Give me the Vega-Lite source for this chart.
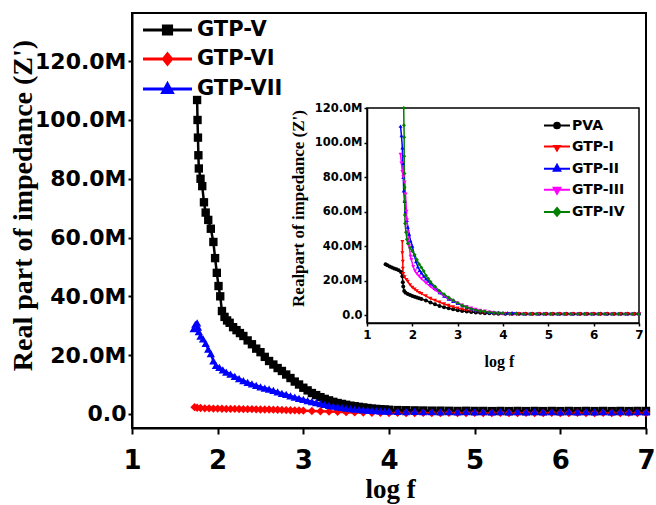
{
  "$schema": "https://vega.github.io/schema/vega-lite/v6.json",
  "width": 514,
  "height": 415,
  "autosize": {"type": "none"},
  "padding": {"left": 132, "top": 13, "right": 10, "bottom": 77},
  "background": "white",
  "config": {
    "view": {"stroke": "#000000", "strokeWidth": 2},
    "axis": {"grid": false, "domainColor": "#000000", "tickColor": "#000000", "labelColor": "#000000", "titleColor": "#000000", "labelFlush": false, "labelOverlap": false}
  },
  "datasets": {
    "main": [
      {"s":"GTP-V","x":1.76,"y":106.8},{"s":"GTP-V","x":1.765,"y":100},{"s":"GTP-V","x":1.77,"y":94},{"s":"GTP-V","x":1.775,"y":88},{"s":"GTP-V","x":1.78,"y":83.5},{"s":"GTP-V","x":1.8,"y":80},{"s":"GTP-V","x":1.82,"y":77.5},{"s":"GTP-V","x":1.84,"y":72},{"s":"GTP-V","x":1.86,"y":68.5},{"s":"GTP-V","x":1.89,"y":66},{"s":"GTP-V","x":1.92,"y":63},{"s":"GTP-V","x":1.95,"y":58.5},{"s":"GTP-V","x":1.97,"y":53},{"s":"GTP-V","x":1.99,"y":48},{"s":"GTP-V","x":2.01,"y":43.5},{"s":"GTP-V","x":2.03,"y":40},{"s":"GTP-V","x":2.05,"y":35},{"s":"GTP-V","x":2.08,"y":33},{"s":"GTP-V","x":2.11,"y":31.8},{"s":"GTP-V","x":2.14,"y":31},{"s":"GTP-V","x":2.18,"y":29.5},{"s":"GTP-V","x":2.22,"y":28.5},{"s":"GTP-V","x":2.26,"y":27.5},{"s":"GTP-V","x":2.3,"y":26.5},{"s":"GTP-V","x":2.35,"y":25},{"s":"GTP-V","x":2.4,"y":23.7},{"s":"GTP-V","x":2.45,"y":22.2},{"s":"GTP-V","x":2.5,"y":21},{"s":"GTP-V","x":2.55,"y":19.4},{"s":"GTP-V","x":2.6,"y":18},{"s":"GTP-V","x":2.65,"y":16.8},{"s":"GTP-V","x":2.7,"y":15.6},{"s":"GTP-V","x":2.75,"y":14.6},{"s":"GTP-V","x":2.8,"y":13.4},{"s":"GTP-V","x":2.85,"y":12.2},{"s":"GTP-V","x":2.9,"y":11},{"s":"GTP-V","x":2.95,"y":10},{"s":"GTP-V","x":3.0,"y":8.9},{"s":"GTP-V","x":3.05,"y":8},{"s":"GTP-V","x":3.1,"y":7.1},{"s":"GTP-V","x":3.15,"y":6.4},{"s":"GTP-V","x":3.2,"y":5.7},{"s":"GTP-V","x":3.25,"y":5.1},{"s":"GTP-V","x":3.3,"y":4.6},{"s":"GTP-V","x":3.35,"y":4.1},{"s":"GTP-V","x":3.4,"y":3.7},{"s":"GTP-V","x":3.45,"y":3.4},{"s":"GTP-V","x":3.5,"y":3.1},{"s":"GTP-V","x":3.55,"y":2.8},{"s":"GTP-V","x":3.6,"y":2.6},{"s":"GTP-V","x":3.65,"y":2.4},{"s":"GTP-V","x":3.7,"y":2.2},{"s":"GTP-V","x":3.75,"y":2.0},{"s":"GTP-V","x":3.8,"y":1.8},{"s":"GTP-V","x":3.85,"y":1.7},{"s":"GTP-V","x":3.9,"y":1.6},{"s":"GTP-V","x":3.95,"y":1.5},{"s":"GTP-V","x":4.0,"y":1.4},{"s":"GTP-V","x":4.1,"y":1.3},{"s":"GTP-V","x":4.2,"y":1.25},{"s":"GTP-V","x":4.3,"y":1.2},{"s":"GTP-V","x":4.4,"y":1.15},{"s":"GTP-V","x":4.5,"y":1.1},{"s":"GTP-V","x":4.6,"y":1.1},{"s":"GTP-V","x":4.7,"y":1.05},{"s":"GTP-V","x":4.8,"y":1.0},{"s":"GTP-V","x":4.9,"y":1.05},{"s":"GTP-V","x":5.0,"y":1.0},{"s":"GTP-V","x":5.1,"y":1.0},{"s":"GTP-V","x":5.2,"y":0.95},{"s":"GTP-V","x":5.3,"y":1.0},{"s":"GTP-V","x":5.4,"y":0.95},{"s":"GTP-V","x":5.5,"y":1.0},{"s":"GTP-V","x":5.6,"y":0.95},{"s":"GTP-V","x":5.7,"y":1.0},{"s":"GTP-V","x":5.8,"y":0.95},{"s":"GTP-V","x":5.9,"y":1.0},{"s":"GTP-V","x":6.0,"y":0.95},{"s":"GTP-V","x":6.1,"y":1.0},{"s":"GTP-V","x":6.2,"y":0.95},{"s":"GTP-V","x":6.3,"y":1.0},{"s":"GTP-V","x":6.4,"y":0.95},{"s":"GTP-V","x":6.5,"y":1.0},{"s":"GTP-V","x":6.6,"y":0.95},{"s":"GTP-V","x":6.7,"y":1.0},{"s":"GTP-V","x":6.8,"y":0.95},{"s":"GTP-V","x":6.9,"y":1.0},{"s":"GTP-V","x":7.0,"y":1.0},
      {"s":"GTP-VI","x":1.73,"y":2.3},{"s":"GTP-VI","x":1.76,"y":2.1},{"s":"GTP-VI","x":1.8,"y":2.0},{"s":"GTP-VI","x":1.85,"y":1.9},{"s":"GTP-VI","x":1.9,"y":1.9},{"s":"GTP-VI","x":1.95,"y":1.8},{"s":"GTP-VI","x":2.0,"y":1.8},{"s":"GTP-VI","x":2.05,"y":1.75},{"s":"GTP-VI","x":2.1,"y":1.7},{"s":"GTP-VI","x":2.15,"y":1.7},{"s":"GTP-VI","x":2.2,"y":1.7},{"s":"GTP-VI","x":2.25,"y":1.65},{"s":"GTP-VI","x":2.3,"y":1.6},{"s":"GTP-VI","x":2.35,"y":1.6},{"s":"GTP-VI","x":2.4,"y":1.6},{"s":"GTP-VI","x":2.45,"y":1.55},{"s":"GTP-VI","x":2.5,"y":1.5},{"s":"GTP-VI","x":2.55,"y":1.5},{"s":"GTP-VI","x":2.6,"y":1.5},{"s":"GTP-VI","x":2.65,"y":1.45},{"s":"GTP-VI","x":2.7,"y":1.4},{"s":"GTP-VI","x":2.75,"y":1.35},{"s":"GTP-VI","x":2.8,"y":1.3},{"s":"GTP-VI","x":2.85,"y":1.25},{"s":"GTP-VI","x":2.9,"y":1.2},{"s":"GTP-VI","x":2.95,"y":1.15},{"s":"GTP-VI","x":3.0,"y":1.1},{"s":"GTP-VI","x":3.1,"y":1.0},{"s":"GTP-VI","x":3.2,"y":0.9},{"s":"GTP-VI","x":3.3,"y":0.8},{"s":"GTP-VI","x":3.4,"y":0.7},{"s":"GTP-VI","x":3.5,"y":0.6},{"s":"GTP-VI","x":3.6,"y":0.5},{"s":"GTP-VI","x":3.7,"y":0.45},{"s":"GTP-VI","x":3.8,"y":0.4},{"s":"GTP-VI","x":3.9,"y":0.35},{"s":"GTP-VI","x":4.0,"y":0.3},{"s":"GTP-VI","x":4.1,"y":0.35},{"s":"GTP-VI","x":4.2,"y":0.3},{"s":"GTP-VI","x":4.3,"y":0.3},{"s":"GTP-VI","x":4.4,"y":0.35},{"s":"GTP-VI","x":4.5,"y":0.3},{"s":"GTP-VI","x":4.6,"y":0.3},{"s":"GTP-VI","x":4.7,"y":0.35},{"s":"GTP-VI","x":4.8,"y":0.3},{"s":"GTP-VI","x":4.9,"y":0.3},{"s":"GTP-VI","x":5.0,"y":0.35},{"s":"GTP-VI","x":5.1,"y":0.3},{"s":"GTP-VI","x":5.2,"y":0.3},{"s":"GTP-VI","x":5.3,"y":0.35},{"s":"GTP-VI","x":5.4,"y":0.3},{"s":"GTP-VI","x":5.5,"y":0.3},{"s":"GTP-VI","x":5.6,"y":0.35},{"s":"GTP-VI","x":5.7,"y":0.3},{"s":"GTP-VI","x":5.8,"y":0.3},{"s":"GTP-VI","x":5.9,"y":0.35},{"s":"GTP-VI","x":6.0,"y":0.3},{"s":"GTP-VI","x":6.1,"y":0.3},{"s":"GTP-VI","x":6.2,"y":0.35},{"s":"GTP-VI","x":6.3,"y":0.3},{"s":"GTP-VI","x":6.4,"y":0.3},{"s":"GTP-VI","x":6.5,"y":0.35},{"s":"GTP-VI","x":6.6,"y":0.3},{"s":"GTP-VI","x":6.7,"y":0.3},{"s":"GTP-VI","x":6.8,"y":0.35},{"s":"GTP-VI","x":6.9,"y":0.3},{"s":"GTP-VI","x":7.0,"y":0.3},
      {"s":"GTP-VII","x":1.72,"y":29},{"s":"GTP-VII","x":1.74,"y":30.5},{"s":"GTP-VII","x":1.76,"y":31},{"s":"GTP-VII","x":1.77,"y":29.5},{"s":"GTP-VII","x":1.78,"y":28},{"s":"GTP-VII","x":1.8,"y":26.5},{"s":"GTP-VII","x":1.83,"y":25.5},{"s":"GTP-VII","x":1.86,"y":24},{"s":"GTP-VII","x":1.89,"y":22},{"s":"GTP-VII","x":1.92,"y":20.5},{"s":"GTP-VII","x":1.95,"y":18},{"s":"GTP-VII","x":1.98,"y":16.5},{"s":"GTP-VII","x":2.02,"y":15.8},{"s":"GTP-VII","x":2.06,"y":15},{"s":"GTP-VII","x":2.1,"y":14.2},{"s":"GTP-VII","x":2.15,"y":13.5},{"s":"GTP-VII","x":2.2,"y":12.8},{"s":"GTP-VII","x":2.25,"y":12},{"s":"GTP-VII","x":2.3,"y":11.3},{"s":"GTP-VII","x":2.35,"y":10.7},{"s":"GTP-VII","x":2.4,"y":10.2},{"s":"GTP-VII","x":2.45,"y":9.7},{"s":"GTP-VII","x":2.5,"y":9.2},{"s":"GTP-VII","x":2.55,"y":8.8},{"s":"GTP-VII","x":2.6,"y":8.4},{"s":"GTP-VII","x":2.65,"y":8},{"s":"GTP-VII","x":2.7,"y":7.5},{"s":"GTP-VII","x":2.75,"y":7},{"s":"GTP-VII","x":2.8,"y":6.6},{"s":"GTP-VII","x":2.85,"y":6.1},{"s":"GTP-VII","x":2.9,"y":5.7},{"s":"GTP-VII","x":2.95,"y":5.3},{"s":"GTP-VII","x":3.0,"y":4.9},{"s":"GTP-VII","x":3.05,"y":4.5},{"s":"GTP-VII","x":3.1,"y":4.2},{"s":"GTP-VII","x":3.15,"y":3.8},{"s":"GTP-VII","x":3.2,"y":3.5},{"s":"GTP-VII","x":3.25,"y":3.2},{"s":"GTP-VII","x":3.3,"y":2.9},{"s":"GTP-VII","x":3.35,"y":2.6},{"s":"GTP-VII","x":3.4,"y":2.4},{"s":"GTP-VII","x":3.45,"y":2.2},{"s":"GTP-VII","x":3.5,"y":2.0},{"s":"GTP-VII","x":3.55,"y":1.8},{"s":"GTP-VII","x":3.6,"y":1.6},{"s":"GTP-VII","x":3.65,"y":1.5},{"s":"GTP-VII","x":3.7,"y":1.4},{"s":"GTP-VII","x":3.75,"y":1.3},{"s":"GTP-VII","x":3.8,"y":1.2},{"s":"GTP-VII","x":3.85,"y":1.1},{"s":"GTP-VII","x":3.9,"y":1.0},{"s":"GTP-VII","x":3.95,"y":0.95},{"s":"GTP-VII","x":4.0,"y":0.9},{"s":"GTP-VII","x":4.1,"y":0.85},{"s":"GTP-VII","x":4.2,"y":0.8},{"s":"GTP-VII","x":4.3,"y":0.85},{"s":"GTP-VII","x":4.4,"y":0.75},{"s":"GTP-VII","x":4.5,"y":0.8},{"s":"GTP-VII","x":4.6,"y":0.7},{"s":"GTP-VII","x":4.7,"y":0.8},{"s":"GTP-VII","x":4.8,"y":0.7},{"s":"GTP-VII","x":4.9,"y":0.75},{"s":"GTP-VII","x":5.0,"y":0.7},{"s":"GTP-VII","x":5.1,"y":0.75},{"s":"GTP-VII","x":5.2,"y":0.7},{"s":"GTP-VII","x":5.3,"y":0.75},{"s":"GTP-VII","x":5.4,"y":0.7},{"s":"GTP-VII","x":5.5,"y":0.75},{"s":"GTP-VII","x":5.6,"y":0.7},{"s":"GTP-VII","x":5.7,"y":0.75},{"s":"GTP-VII","x":5.8,"y":0.7},{"s":"GTP-VII","x":5.9,"y":0.75},{"s":"GTP-VII","x":6.0,"y":0.7},{"s":"GTP-VII","x":6.1,"y":0.75},{"s":"GTP-VII","x":6.2,"y":0.7},{"s":"GTP-VII","x":6.3,"y":0.75},{"s":"GTP-VII","x":6.4,"y":0.7},{"s":"GTP-VII","x":6.5,"y":0.75},{"s":"GTP-VII","x":6.6,"y":0.7},{"s":"GTP-VII","x":6.7,"y":0.75},{"s":"GTP-VII","x":6.8,"y":0.7},{"s":"GTP-VII","x":6.9,"y":0.75},{"s":"GTP-VII","x":7.0,"y":0.7}
    ],
    "inset": [
      {"s":"PVA","x":1.41,"y":29.5},{"s":"PVA","x":1.45,"y":28.8},{"s":"PVA","x":1.5,"y":28.2},{"s":"PVA","x":1.55,"y":27.6},{"s":"PVA","x":1.6,"y":27},{"s":"PVA","x":1.65,"y":26.5},{"s":"PVA","x":1.7,"y":26},{"s":"PVA","x":1.75,"y":25},{"s":"PVA","x":1.78,"y":22.5},{"s":"PVA","x":1.79,"y":19},{"s":"PVA","x":1.8,"y":16.5},{"s":"PVA","x":1.82,"y":14},{"s":"PVA","x":1.85,"y":13},{"s":"PVA","x":1.9,"y":12.2},{"s":"PVA","x":1.95,"y":11.6},{"s":"PVA","x":2.0,"y":11},{"s":"PVA","x":2.05,"y":10.6},{"s":"PVA","x":2.1,"y":10.2},{"s":"PVA","x":2.15,"y":9.8},{"s":"PVA","x":2.2,"y":9.3},{"s":"PVA","x":2.3,"y":8.4},{"s":"PVA","x":2.4,"y":7.3},{"s":"PVA","x":2.5,"y":6.3},{"s":"PVA","x":2.6,"y":5.3},{"s":"PVA","x":2.7,"y":4.6},{"s":"PVA","x":2.8,"y":3.9},{"s":"PVA","x":2.9,"y":3.3},{"s":"PVA","x":3.0,"y":2.8},{"s":"PVA","x":3.1,"y":2.4},{"s":"PVA","x":3.2,"y":2.1},{"s":"PVA","x":3.3,"y":1.8},{"s":"PVA","x":3.4,"y":1.5},{"s":"PVA","x":3.5,"y":1.3},{"s":"PVA","x":3.6,"y":1.1},{"s":"PVA","x":3.7,"y":1.0},{"s":"PVA","x":3.8,"y":0.9},{"s":"PVA","x":3.9,"y":0.8},{"s":"PVA","x":4.05,"y":0.7},{"s":"PVA","x":4.2,"y":0.7},{"s":"PVA","x":4.35,"y":0.7},{"s":"PVA","x":4.5,"y":0.7},{"s":"PVA","x":4.65,"y":0.7},{"s":"PVA","x":4.8,"y":0.7},{"s":"PVA","x":4.95,"y":0.7},{"s":"PVA","x":5.1,"y":0.7},{"s":"PVA","x":5.25,"y":0.7},{"s":"PVA","x":5.4,"y":0.7},{"s":"PVA","x":5.55,"y":0.7},{"s":"PVA","x":5.7,"y":0.7},{"s":"PVA","x":5.85,"y":0.7},{"s":"PVA","x":6.0,"y":0.7},{"s":"PVA","x":6.15,"y":0.7},{"s":"PVA","x":6.3,"y":0.7},{"s":"PVA","x":6.45,"y":0.7},{"s":"PVA","x":6.6,"y":0.7},{"s":"PVA","x":6.75,"y":0.7},{"s":"PVA","x":6.9,"y":0.7},{"s":"PVA","x":7.0,"y":0.7},
      {"s":"GTP-I","x":1.78,"y":42.5},{"s":"GTP-I","x":1.78,"y":36},{"s":"GTP-I","x":1.79,"y":31},{"s":"GTP-I","x":1.79,"y":27},{"s":"GTP-I","x":1.8,"y":24},{"s":"GTP-I","x":1.83,"y":22},{"s":"GTP-I","x":1.87,"y":20.5},{"s":"GTP-I","x":1.9,"y":19.5},{"s":"GTP-I","x":1.95,"y":17.5},{"s":"GTP-I","x":2.0,"y":16},{"s":"GTP-I","x":2.05,"y":15},{"s":"GTP-I","x":2.1,"y":14},{"s":"GTP-I","x":2.15,"y":13},{"s":"GTP-I","x":2.2,"y":12.4},{"s":"GTP-I","x":2.3,"y":11},{"s":"GTP-I","x":2.4,"y":9.6},{"s":"GTP-I","x":2.5,"y":8.5},{"s":"GTP-I","x":2.6,"y":7.4},{"s":"GTP-I","x":2.7,"y":6.4},{"s":"GTP-I","x":2.8,"y":5.5},{"s":"GTP-I","x":2.9,"y":4.7},{"s":"GTP-I","x":3.0,"y":4},{"s":"GTP-I","x":3.1,"y":3.4},{"s":"GTP-I","x":3.2,"y":2.9},{"s":"GTP-I","x":3.3,"y":2.4},{"s":"GTP-I","x":3.4,"y":2},{"s":"GTP-I","x":3.5,"y":1.7},{"s":"GTP-I","x":3.6,"y":1.4},{"s":"GTP-I","x":3.7,"y":1.2},{"s":"GTP-I","x":3.8,"y":1.0},{"s":"GTP-I","x":3.9,"y":0.9},{"s":"GTP-I","x":4.05,"y":0.8},{"s":"GTP-I","x":4.2,"y":0.7},{"s":"GTP-I","x":4.35,"y":0.7},{"s":"GTP-I","x":4.5,"y":0.6},{"s":"GTP-I","x":4.65,"y":0.6},{"s":"GTP-I","x":4.8,"y":0.6},{"s":"GTP-I","x":4.95,"y":0.6},{"s":"GTP-I","x":5.1,"y":0.6},{"s":"GTP-I","x":5.25,"y":0.6},{"s":"GTP-I","x":5.4,"y":0.6},{"s":"GTP-I","x":5.55,"y":0.6},{"s":"GTP-I","x":5.7,"y":0.6},{"s":"GTP-I","x":5.85,"y":0.6},{"s":"GTP-I","x":6.0,"y":0.6},{"s":"GTP-I","x":6.15,"y":0.6},{"s":"GTP-I","x":6.3,"y":0.6},{"s":"GTP-I","x":6.45,"y":0.6},{"s":"GTP-I","x":6.6,"y":0.6},{"s":"GTP-I","x":6.75,"y":0.6},{"s":"GTP-I","x":6.9,"y":0.6},{"s":"GTP-I","x":7.0,"y":0.6},
      {"s":"GTP-II","x":1.74,"y":109.5},{"s":"GTP-II","x":1.76,"y":104},{"s":"GTP-II","x":1.78,"y":97},{"s":"GTP-II","x":1.79,"y":88},{"s":"GTP-II","x":1.8,"y":80},{"s":"GTP-II","x":1.81,"y":72},{"s":"GTP-II","x":1.83,"y":66},{"s":"GTP-II","x":1.85,"y":60},{"s":"GTP-II","x":1.88,"y":55},{"s":"GTP-II","x":1.9,"y":51},{"s":"GTP-II","x":1.93,"y":47},{"s":"GTP-II","x":1.96,"y":43},{"s":"GTP-II","x":2.0,"y":40},{"s":"GTP-II","x":2.04,"y":35},{"s":"GTP-II","x":2.08,"y":31},{"s":"GTP-II","x":2.12,"y":28},{"s":"GTP-II","x":2.16,"y":26},{"s":"GTP-II","x":2.2,"y":24.5},{"s":"GTP-II","x":2.25,"y":22.5},{"s":"GTP-II","x":2.3,"y":21},{"s":"GTP-II","x":2.35,"y":19.7},{"s":"GTP-II","x":2.4,"y":18.4},{"s":"GTP-II","x":2.5,"y":15.5},{"s":"GTP-II","x":2.6,"y":13},{"s":"GTP-II","x":2.7,"y":11},{"s":"GTP-II","x":2.8,"y":9.3},{"s":"GTP-II","x":2.9,"y":8},{"s":"GTP-II","x":3.0,"y":6.8},{"s":"GTP-II","x":3.1,"y":5.6},{"s":"GTP-II","x":3.2,"y":4.4},{"s":"GTP-II","x":3.3,"y":3.6},{"s":"GTP-II","x":3.4,"y":2.9},{"s":"GTP-II","x":3.5,"y":2.4},{"s":"GTP-II","x":3.6,"y":2.0},{"s":"GTP-II","x":3.7,"y":1.8},{"s":"GTP-II","x":3.8,"y":1.6},{"s":"GTP-II","x":3.9,"y":1.5},{"s":"GTP-II","x":4.0,"y":1.4},{"s":"GTP-II","x":4.1,"y":1.3},{"s":"GTP-II","x":4.2,"y":1.3},{"s":"GTP-II","x":4.3,"y":1.2},{"s":"GTP-II","x":4.45,"y":0.9},{"s":"GTP-II","x":4.6,"y":0.9},{"s":"GTP-II","x":4.75,"y":0.9},{"s":"GTP-II","x":4.9,"y":0.9},{"s":"GTP-II","x":5.05,"y":0.9},{"s":"GTP-II","x":5.2,"y":0.9},{"s":"GTP-II","x":5.35,"y":0.9},{"s":"GTP-II","x":5.5,"y":0.9},{"s":"GTP-II","x":5.65,"y":0.9},{"s":"GTP-II","x":5.8,"y":0.9},{"s":"GTP-II","x":5.95,"y":0.9},{"s":"GTP-II","x":6.1,"y":0.9},{"s":"GTP-II","x":6.25,"y":0.9},{"s":"GTP-II","x":6.4,"y":0.9},{"s":"GTP-II","x":6.55,"y":0.9},{"s":"GTP-II","x":6.7,"y":0.9},{"s":"GTP-II","x":6.85,"y":0.9},{"s":"GTP-II","x":7.0,"y":0.9},
      {"s":"GTP-III","x":1.74,"y":93},{"s":"GTP-III","x":1.76,"y":88},{"s":"GTP-III","x":1.78,"y":83},{"s":"GTP-III","x":1.8,"y":80},{"s":"GTP-III","x":1.83,"y":77},{"s":"GTP-III","x":1.85,"y":70},{"s":"GTP-III","x":1.87,"y":60},{"s":"GTP-III","x":1.88,"y":55},{"s":"GTP-III","x":1.9,"y":48},{"s":"GTP-III","x":1.93,"y":40},{"s":"GTP-III","x":1.96,"y":34},{"s":"GTP-III","x":1.98,"y":32},{"s":"GTP-III","x":2.02,"y":28},{"s":"GTP-III","x":2.06,"y":25.5},{"s":"GTP-III","x":2.1,"y":24},{"s":"GTP-III","x":2.15,"y":22.5},{"s":"GTP-III","x":2.2,"y":21},{"s":"GTP-III","x":2.3,"y":18.6},{"s":"GTP-III","x":2.4,"y":16.5},{"s":"GTP-III","x":2.5,"y":14.5},{"s":"GTP-III","x":2.6,"y":12.8},{"s":"GTP-III","x":2.7,"y":11.2},{"s":"GTP-III","x":2.8,"y":9.6},{"s":"GTP-III","x":2.9,"y":8},{"s":"GTP-III","x":3.0,"y":6.8},{"s":"GTP-III","x":3.1,"y":5.7},{"s":"GTP-III","x":3.2,"y":4.8},{"s":"GTP-III","x":3.3,"y":4},{"s":"GTP-III","x":3.4,"y":3.3},{"s":"GTP-III","x":3.5,"y":2.7},{"s":"GTP-III","x":3.6,"y":2.2},{"s":"GTP-III","x":3.7,"y":1.7},{"s":"GTP-III","x":3.8,"y":1.2},{"s":"GTP-III","x":3.9,"y":0.8},{"s":"GTP-III","x":4.0,"y":0.5},{"s":"GTP-III","x":4.15,"y":0.3},{"s":"GTP-III","x":4.3,"y":0.3},{"s":"GTP-III","x":4.45,"y":0.3},{"s":"GTP-III","x":4.6,"y":0.3},{"s":"GTP-III","x":4.75,"y":0.3},{"s":"GTP-III","x":4.9,"y":0.3},{"s":"GTP-III","x":5.05,"y":0.3},{"s":"GTP-III","x":5.2,"y":0.3},{"s":"GTP-III","x":5.35,"y":0.3},{"s":"GTP-III","x":5.5,"y":0.3},{"s":"GTP-III","x":5.65,"y":0.3},{"s":"GTP-III","x":5.8,"y":0.3},{"s":"GTP-III","x":5.95,"y":0.3},{"s":"GTP-III","x":6.1,"y":0.3},{"s":"GTP-III","x":6.25,"y":0.3},{"s":"GTP-III","x":6.4,"y":0.3},{"s":"GTP-III","x":6.55,"y":0.3},{"s":"GTP-III","x":6.7,"y":0.3},{"s":"GTP-III","x":6.85,"y":0.3},{"s":"GTP-III","x":7.0,"y":0.3},
      {"s":"GTP-IV","x":1.81,"y":120},{"s":"GTP-IV","x":1.815,"y":110},{"s":"GTP-IV","x":1.82,"y":103},{"s":"GTP-IV","x":1.82,"y":92},{"s":"GTP-IV","x":1.825,"y":82},{"s":"GTP-IV","x":1.83,"y":74},{"s":"GTP-IV","x":1.83,"y":66},{"s":"GTP-IV","x":1.835,"y":58},{"s":"GTP-IV","x":1.84,"y":53},{"s":"GTP-IV","x":1.86,"y":48},{"s":"GTP-IV","x":1.88,"y":44},{"s":"GTP-IV","x":1.9,"y":41.5},{"s":"GTP-IV","x":1.95,"y":39},{"s":"GTP-IV","x":2.0,"y":37},{"s":"GTP-IV","x":2.05,"y":35},{"s":"GTP-IV","x":2.1,"y":32},{"s":"GTP-IV","x":2.15,"y":29.5},{"s":"GTP-IV","x":2.2,"y":27.5},{"s":"GTP-IV","x":2.25,"y":25.5},{"s":"GTP-IV","x":2.3,"y":23},{"s":"GTP-IV","x":2.35,"y":21},{"s":"GTP-IV","x":2.4,"y":19.3},{"s":"GTP-IV","x":2.5,"y":16.5},{"s":"GTP-IV","x":2.6,"y":14},{"s":"GTP-IV","x":2.7,"y":12},{"s":"GTP-IV","x":2.8,"y":10.2},{"s":"GTP-IV","x":2.9,"y":8.6},{"s":"GTP-IV","x":3.0,"y":7},{"s":"GTP-IV","x":3.1,"y":5.6},{"s":"GTP-IV","x":3.2,"y":4.6},{"s":"GTP-IV","x":3.3,"y":3.7},{"s":"GTP-IV","x":3.4,"y":3},{"s":"GTP-IV","x":3.5,"y":2.4},{"s":"GTP-IV","x":3.6,"y":2.0},{"s":"GTP-IV","x":3.7,"y":1.7},{"s":"GTP-IV","x":3.8,"y":1.4},{"s":"GTP-IV","x":3.9,"y":1.2},{"s":"GTP-IV","x":4.0,"y":1.0},{"s":"GTP-IV","x":4.15,"y":0.8},{"s":"GTP-IV","x":4.3,"y":0.7},{"s":"GTP-IV","x":4.45,"y":0.6},{"s":"GTP-IV","x":4.6,"y":0.6},{"s":"GTP-IV","x":4.75,"y":0.6},{"s":"GTP-IV","x":4.9,"y":0.6},{"s":"GTP-IV","x":5.05,"y":0.6},{"s":"GTP-IV","x":5.2,"y":0.6},{"s":"GTP-IV","x":5.35,"y":0.6},{"s":"GTP-IV","x":5.5,"y":0.6},{"s":"GTP-IV","x":5.65,"y":0.6},{"s":"GTP-IV","x":5.8,"y":0.6},{"s":"GTP-IV","x":5.95,"y":0.6},{"s":"GTP-IV","x":6.1,"y":0.6},{"s":"GTP-IV","x":6.25,"y":0.6},{"s":"GTP-IV","x":6.4,"y":0.6},{"s":"GTP-IV","x":6.55,"y":0.6},{"s":"GTP-IV","x":6.7,"y":0.6},{"s":"GTP-IV","x":6.85,"y":0.6},{"s":"GTP-IV","x":7.0,"y":0.6}
    ]
  },
  "layer": [
    {
      "data": {"name": "main"},
      "resolve": {"scale": {"color": "independent", "shape": "independent"}, "legend": {"color": "independent", "shape": "independent"}},
      "layer": [
        {
          "mark": {"type": "line", "strokeWidth": 2.5},
          "encoding": {
            "x": {"field": "x", "type": "quantitative", "title": "log f", "scale": {"domain": [1, 7], "nice": false, "zero": false},
              "axis": {"orient": "bottom", "values": [1,2,3,4,5,6,7], "format": "d", "labelFont": "DejaVu Sans", "labelFontWeight": "bold", "labelFontSize": 26, "labelPadding": 13, "tickSize": 6, "tickWidth": 2, "domainWidth": 2, "titleFont": "Liberation Serif", "titleFontSize": 27, "titleFontWeight": "bold", "titleX": 258, "titleY": 61, "titleBaseline": "middle", "titleAlign": "center"}},
            "y": {"field": "y", "type": "quantitative", "title": "Real part of impedance (Z')", "scale": {"domain": [-4.8, 136.4], "nice": false, "zero": false},
              "axis": {"orient": "left", "values": [0,20,40,60,80,100,120], "labelExpr": "datum.value == 0 ? '0.0' : format(datum.value, '.1f') + 'M'", "labelFont": "DejaVu Sans", "labelFontWeight": "bold", "labelFontSize": 22, "labelPadding": 2, "tickSize": 4, "tickWidth": 2, "domainWidth": 2, "titleFont": "Liberation Serif", "titleFontSize": 28, "titleFontWeight": "bold", "titleX": -109, "titleY": 192, "titleBaseline": "middle", "titleAlign": "center", "titleAngle": -90}},
            "color": {"field": "s", "type": "nominal", "scale": {"domain": ["GTP-V", "GTP-VI", "GTP-VII"], "range": ["#000000", "#ff0000", "#0000ff"]},
              "legend": {"orient": "none", "legendX": 17, "legendY": -1.5, "title": null, "padding": 0, "rowPadding": 0, "labelOffset": 11, "labelFont": "DejaVu Sans", "labelFontWeight": "bold", "labelFontSize": 21, "labelColor": "#000000",
                "encode": {"symbols": {"update": {
                  "shape": {"signal": "datum.value === 'GTP-V' ? 'M-1.44,0H1.44M-0.24,-0.24H0.24V0.24H-0.24Z' : datum.value === 'GTP-VI' ? 'M-1.44,0H1.44M0,-0.3L0.24,0L0,0.3L-0.24,0Z' : 'M-1.44,0H1.44M0,-0.3L0.28,0.2H-0.28Z'"},
                  "size": {"value": 1156},
                  "strokeWidth": {"value": 3},
                  "stroke": {"signal": "datum.value === 'GTP-V' ? '#000000' : datum.value === 'GTP-VI' ? '#ff0000' : '#0000ff'"},
                  "fill": {"signal": "datum.value === 'GTP-V' ? '#000000' : datum.value === 'GTP-VI' ? '#ff0000' : '#0000ff'"},
                  "opacity": {"value": 1}
                }}}}},
            "order": {"field": "x", "type": "quantitative"}
          }
        },
        {
          "mark": {"type": "point", "filled": true, "size": 70, "opacity": 1},
          "encoding": {
            "x": {"field": "x", "type": "quantitative", "title": "log f"},
            "y": {"field": "y", "type": "quantitative", "title": "Real part of impedance (Z')"},
            "color": {"field": "s", "type": "nominal", "scale": {"domain": ["GTP-V", "GTP-VI", "GTP-VII"], "range": ["#000000", "#ff0000", "#0000ff"]}, "legend": null},
            "shape": {"field": "s", "type": "nominal", "scale": {"domain": ["GTP-V", "GTP-VI", "GTP-VII"], "range": ["square", "diamond", "triangle-up"]}, "legend": null}
          }
        }
      ]
    },
    {
      "data": {"name": "inset"},
      "resolve": {"scale": {"color": "independent", "shape": "independent"}, "legend": {"color": "independent", "shape": "independent"}},
      "layer": [
        {
          "data": {"values": [{}]},
          "mark": {"type": "rect", "fill": "#ffffff", "stroke": "#000000", "strokeWidth": 1.5},
          "encoding": {
            "x": {"datum": 1, "type": "quantitative", "title": "log f", "scale": {"domain": [1, 7], "range": [235, 507], "nice": false, "zero": false},
              "axis": {"orient": "bottom", "offset": -105, "zindex": 1, "values": [1,2,3,4,5,6,7], "format": "d", "labelFont": "DejaVu Sans", "labelFontWeight": "bold", "labelFontSize": 12, "labelPadding": 3, "tickSize": 3, "tickWidth": 1.5, "domainWidth": 1.5, "titleFont": "Liberation Serif", "titleFontSize": 16, "titleFontWeight": "bold", "titleX": 367, "titleY": 38, "titleBaseline": "middle", "titleAlign": "center"}},
            "x2": {"datum": 7},
            "y": {"datum": -4.6, "type": "quantitative", "title": "Realpart of impedance (Z')", "scale": {"domain": [-4.6, 120], "range": [310, 95], "nice": false, "zero": false},
              "axis": {"orient": "left", "offset": -235, "zindex": 1, "values": [0,20,40,60,80,100,120], "labelExpr": "datum.value == 0 ? '0.0' : format(datum.value, '.1f') + 'M'", "labelFont": "DejaVu Sans", "labelFontWeight": "bold", "labelFontSize": 11.5, "labelPadding": 2, "tickSize": 3, "tickWidth": 1.5, "domainWidth": 1.5, "titleFont": "Liberation Serif", "titleFontSize": 17, "titleFontWeight": "bold", "titleX": -69, "titleY": 195, "titleBaseline": "middle", "titleAlign": "center", "titleAngle": -90}},
            "y2": {"datum": 120}
          }
        },
        {
          "mark": {"type": "line", "strokeWidth": 1.5},
          "encoding": {
            "x": {"field": "x", "type": "quantitative", "title": "log f"},
            "y": {"field": "y", "type": "quantitative", "title": "Realpart of impedance (Z')"},
            "color": {"field": "s", "type": "nominal", "scale": {"domain": ["PVA", "GTP-I", "GTP-II", "GTP-III", "GTP-IV"], "range": ["#000000", "#ff0000", "#0000ff", "#ff00ff", "#007f00"]},
              "legend": {"orient": "none", "legendX": 411, "legendY": 98.5, "title": null, "padding": 0, "rowPadding": 0.1, "labelOffset": 1, "labelFont": "DejaVu Sans", "labelFontWeight": "bold", "labelFontSize": 14, "labelColor": "#000000",
                "encode": {"symbols": {"update": {
                  "shape": {"signal": "datum.value === 'PVA' ? 'M-1,0H1M0.22,0A0.22,0.22 0 1,1 -0.22,0A0.22,0.22 0 1,1 0.22,0Z' : datum.value === 'GTP-I' ? 'M-1,0H1M-0.2,-0.05H0.2L0,0.3Z' : datum.value === 'GTP-II' ? 'M-1,0H1M0,-0.3L0.25,0.15H-0.25Z' : datum.value === 'GTP-III' ? 'M-1,0H1M-0.25,-0.15H0.25L0,0.3Z' : 'M-1,0H1M0,-0.3L0.25,0L0,0.3L-0.25,0Z'"},
                  "size": {"value": 676},
                  "strokeWidth": {"value": 2},
                  "stroke": {"signal": "datum.value === 'PVA' ? '#000000' : datum.value === 'GTP-I' ? '#ff0000' : datum.value === 'GTP-II' ? '#0000ff' : datum.value === 'GTP-III' ? '#ff00ff' : '#007f00'"},
                  "fill": {"signal": "datum.value === 'PVA' ? '#000000' : datum.value === 'GTP-I' ? '#ff0000' : datum.value === 'GTP-II' ? '#0000ff' : datum.value === 'GTP-III' ? '#ff00ff' : '#007f00'"},
                  "opacity": {"value": 1}
                }}}}},
            "order": {"field": "x", "type": "quantitative"}
          }
        },
        {
          "mark": {"type": "point", "filled": true, "size": 16, "opacity": 1},
          "encoding": {
            "x": {"field": "x", "type": "quantitative", "title": "log f"},
            "y": {"field": "y", "type": "quantitative", "title": "Realpart of impedance (Z')"},
            "color": {"field": "s", "type": "nominal", "scale": {"domain": ["PVA", "GTP-I", "GTP-II", "GTP-III", "GTP-IV"], "range": ["#000000", "#ff0000", "#0000ff", "#ff00ff", "#007f00"]}, "legend": null},
            "shape": {"field": "s", "type": "nominal", "scale": {"domain": ["PVA", "GTP-I", "GTP-II", "GTP-III", "GTP-IV"], "range": ["circle", "triangle-down", "triangle-up", "triangle-down", "diamond"]}, "legend": null}
          }
        }
      ]
    }
  ],
  "resolve": {
    "scale": {"x": "independent", "y": "independent", "color": "independent", "shape": "independent"},
    "axis": {"x": "independent", "y": "independent"},
    "legend": {"color": "independent", "shape": "independent"}
  }
}
